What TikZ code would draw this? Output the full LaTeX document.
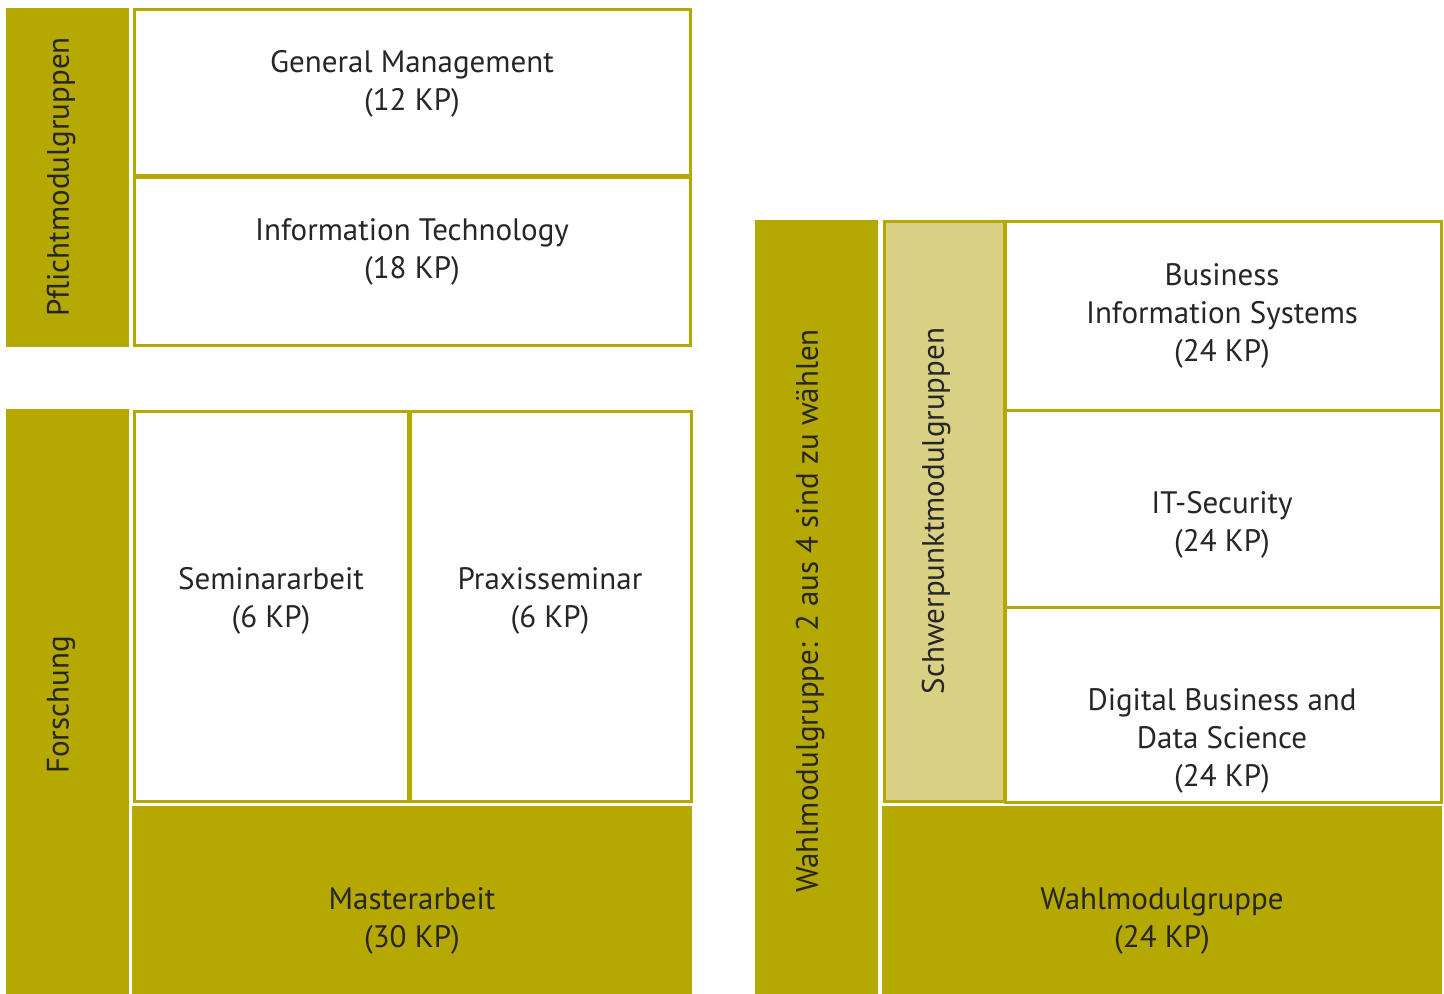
\documentclass[tikz,border=0pt]{standalone}
\usepackage{fontspec}
\setmainfont{PT Sans}
\definecolor{olive}{RGB}{181,168,0}
\definecolor{lightolive}{RGB}{217,208,132}
\begin{document}
\begin{tikzpicture}[x=0.5pt,y=-0.5pt,
  box/.style={draw=olive,line width=1.5pt,fill=white,anchor=north west,inner sep=0pt,outer sep=0pt},
  bar/.style={fill=olive,draw=none,anchor=north west,inner sep=0pt,outer sep=0pt},
  lbar/.style={fill=lightolive,draw=olive,line width=1.5pt,anchor=north west,inner sep=0pt,outer sep=0pt},
  lbl/.style={align=center,font=\fontsize{15.5}{19}\selectfont,text=black!85,inner sep=0pt},
  vlbl/.style={lbl,rotate=90}]
\useasboundingbox (0,0) rectangle (1444,994);
% left top
\node[bar,minimum width=61.5pt,minimum height=169.5pt] (pf) at (6,8) {};
\node[box,minimum width=278pt,minimum height=83pt] (gm) at (134,10) {};
\node[box,minimum width=278pt,minimum height=84pt] (it) at (134,178) {};
\node[vlbl] (pft) at (61,177) {Pflichtmodulgruppen};
\node[lbl] (gmt) at (412,84) {General Management\\(12 KP)};
\node[lbl] (itt) at (412,252) {Information Technology\\(18 KP)};
% left bottom
\node[bar,minimum width=61.5pt,minimum height=292.5pt] (fo) at (6,409) {};
\node[box,minimum width=137pt,minimum height=195pt] (se) at (134,411) {};
\node[box,minimum width=140.5pt,minimum height=195pt] (pr) at (410,411) {};
\node[bar,minimum width=280pt,minimum height=94pt] (ma) at (132,806) {};
\node[vlbl] (fot) at (61,705) {Forschung};
\node[lbl] (set) at (271,601) {Seminararbeit\\(6 KP)};
\node[lbl] (prt) at (550,601) {Praxisseminar\\(6 KP)};
\node[lbl] (mat) at (412,921) {Masterarbeit\\(30 KP)};
% right
\node[bar,minimum width=61.5pt,minimum height=387pt] (wa) at (755,220) {};
\node[lbar,minimum width=60pt,minimum height=289.5pt] (sp) at (884,222) {};
\node[box,minimum width=218pt,minimum height=94pt] (bis) at (1005,222) {};
\node[box,minimum width=218pt,minimum height=98.5pt] (its) at (1005,410) {};
\node[box,minimum width=218pt,minimum height=97.5pt] (dbds) at (1005,607) {};
\node[bar,minimum width=280pt,minimum height=94pt] (wg) at (882,806) {};
\node[vlbl] (wat) at (810,611) {Wahlmodulgruppe: 2 aus 4 sind zu wählen};
\node[vlbl] (spt) at (936,511) {Schwerpunktmodulgruppen};
\node[lbl] (bist) at (1222,316) {Business\\Information Systems\\(24 KP)};
\node[lbl] (itst) at (1222,525) {IT-Security\\(24 KP)};
\node[lbl] (dbdst) at (1222,741) {Digital Business and\\Data Science\\(24 KP)};
\node[lbl] (wgt) at (1162,921) {Wahlmodulgruppe\\(24 KP)};
\end{tikzpicture}
\end{document}
